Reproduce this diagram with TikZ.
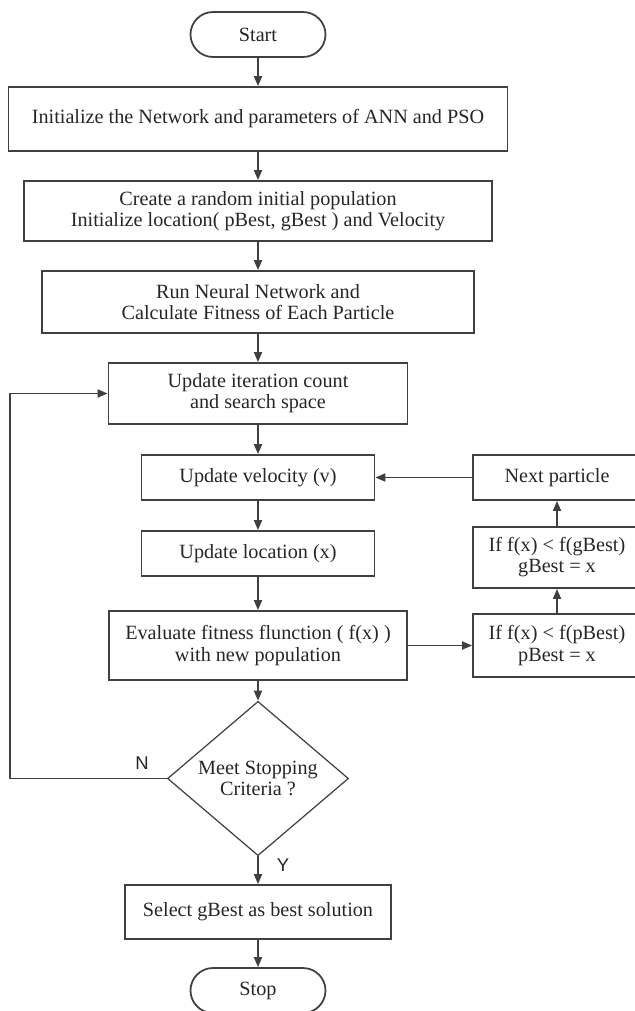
\documentclass[tikz,border=0pt]{standalone}
\usepackage{fontspec}
\setmainfont{Liberation Serif}
\newfontfamily\yesnofont{Liberation Sans}
\usetikzlibrary{shapes.geometric,arrows.meta}
\definecolor{linegray}{gray}{0.25}
\definecolor{textgray}{gray}{0.15}
\begin{document}
\begin{tikzpicture}[font=\fontsize{11.5}{12}\selectfont,text=textgray]
  \path[use as bounding box,clip] (0,0) rectangle (12.7,-20.22);
  \begin{scope}[every node/.style={draw=linegray,line width=1pt,align=center,inner sep=2pt}]
  \node[rounded corners=0.45cm,minimum width=2.7cm,minimum height=0.9cm] (start) at (5.16,-0.69) {Start};
  \node[minimum width=9.98cm,minimum height=1.28cm] (init) at (5.16,-2.38) {Initialize the Network and parameters of ANN and PSO};
  \node[minimum width=9.36cm,minimum height=1.2cm] (pop) at (5.16,-4.22) {Create a random initial population\\Initialize location( pBest, gBest ) and Velocity};
  \node[minimum width=8.64cm,minimum height=1.24cm] (run) at (5.16,-6.04) {Run Neural Network and\\Calculate Fitness of Each Particle};
  \node[minimum width=5.98cm,minimum height=1.22cm] (iter) at (5.16,-7.87) {Update iteration count\\and search space};
  \node[minimum width=4.66cm,minimum height=0.9cm] (vel) at (5.16,-9.55) {Update velocity (v)};
  \node[minimum width=4.66cm,minimum height=0.9cm] (loc) at (5.16,-11.07) {Update location (x)};
  \node[minimum width=5.96cm,minimum height=1.38cm] (eval) at (5.16,-12.91) {Evaluate fitness flunction ( f(x) )\\with new population};
  \node[diamond,line width=0.7pt,minimum width=3.62cm,minimum height=2.7cm,inner sep=0pt] (crit) at (5.16,-15.57) {Meet Stopping\\Criteria ?};
  \node[minimum width=5.32cm,minimum height=1.08cm] (sel) at (5.16,-18.24) {Select gBest as best solution};
  \node[rounded corners=0.45cm,minimum width=2.7cm,minimum height=0.9cm] (stop) at (5.16,-19.81) {Stop};
  \node[minimum width=3.36cm,minimum height=0.9cm] (next) at (11.14,-9.55) {Next particle};
  \node[minimum width=3.36cm,minimum height=1.22cm] (gb) at (11.14,-11.15) {If f(x) < f(gBest)\\gBest = x};
  \node[minimum width=3.36cm,minimum height=1.26cm] (pb) at (11.14,-12.91) {If f(x) < f(pBest)\\pBest = x};
  \end{scope}
  \begin{scope}[every node/.style={font=\yesnofont\fontsize{10.5}{12}\selectfont}]
  \node (no) at (2.84,-15.26) {N};
  \node (yes) at (5.66,-17.3) {Y};
  \end{scope}
  \coordinate (lp) at (0.2,-15.57);
  \begin{scope}[every edge/.style={draw=linegray,line width=1pt,-{Triangle[length=2mm,width=1.6mm]}}]
  \path (start) edge (init);
  \path (init) edge (pop);
  \path (pop) edge (run);
  \path (run) edge (iter);
  \path (iter) edge (vel);
  \path (vel) edge (loc);
  \path (loc) edge (eval);
  \path (eval) edge (crit);
  \path (crit) edge (sel);
  \path (sel) edge (stop);
  \path (eval) edge (pb);
  \path (pb) edge (gb);
  \path (gb) edge (next);
  \path (next) edge (vel);
  \path (crit.west) edge[to path={-- (lp) |- (\tikztotarget)}] (iter.west);
  \end{scope}
\end{tikzpicture}
\end{document}
